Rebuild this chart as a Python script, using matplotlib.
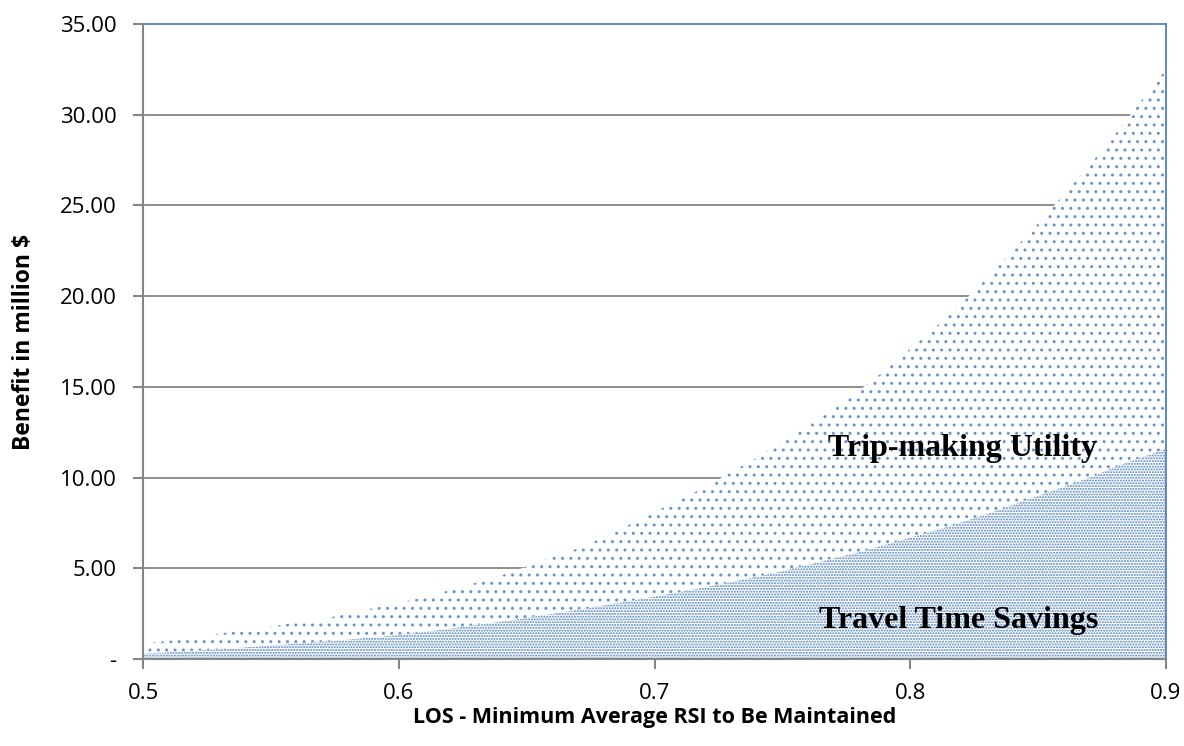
import matplotlib.pyplot as plt
import numpy as np

# LOS values (x) and benefits in million $
los = [0.50, 0.51, 0.52, 0.53, 0.54, 0.55, 0.56, 0.57, 0.58, 0.59,
       0.60, 0.61, 0.62, 0.63, 0.64, 0.65, 0.66, 0.67, 0.68, 0.69,
       0.70, 0.71, 0.72, 0.73, 0.74, 0.75, 0.76, 0.77, 0.78, 0.79,
       0.80, 0.81, 0.82, 0.83, 0.84, 0.85, 0.86, 0.87, 0.88, 0.89, 0.90]

# travel time savings (bottom layer)
travel_time = [0.30, 0.38, 0.46, 0.55, 0.65, 0.75, 0.85, 0.96, 1.08, 1.20,
               1.33, 1.50, 1.68, 1.87, 2.07, 2.28, 2.50, 2.72, 2.96, 3.20,
               3.45, 3.70, 3.97, 4.25, 4.55, 4.85, 5.20, 5.55, 5.90, 6.30,
               6.70, 7.10, 7.55, 8.00, 8.50, 9.00, 9.50, 10.0, 10.6, 11.1, 11.6]

# total benefit (travel time + trip-making utility, top of stack)
total_benefit = [0.85, 1.00, 1.20, 1.40, 1.60, 1.80, 2.00, 2.20, 2.50, 2.80,
                 3.10, 3.40, 3.80, 4.20, 4.60, 5.10, 5.60, 6.10, 6.70, 7.40,
                 8.10, 8.80, 9.50, 10.3, 11.1, 12.0, 12.9, 13.8, 14.8, 15.9,
                 17.1, 18.3, 19.6, 21.0, 22.5, 24.0, 25.6, 27.2, 28.9, 30.7, 32.5]

y_ticks = [0, 5, 10, 15, 20, 25, 30, 35]
y_ticklabels = ['-', '5.00', '10.00', '15.00', '20.00', '25.00', '30.00', '35.00']
x_ticks = [0.5, 0.6, 0.7, 0.8, 0.9]
x_ticklabels = ['0.5', '0.6', '0.7', '0.8', '0.9']

blue = '#4F81BD'
light_blue = '#6A94CC'
grey = '#868686'

plt.rcParams['font.family'] = ['Open Sans', 'DejaVu Sans']
plt.rcParams['hatch.linewidth'] = 1.0

fig = plt.figure(figsize=(11.84, 7.46), dpi=100)
ax = fig.add_axes([0.1208, 0.1166, 0.8640, 0.8512])

ax.fill_between(los, 0, travel_time, facecolor='white', edgecolor=blue,
                hatch='......', linewidth=0, zorder=2)
ax.fill_between(los, travel_time, total_benefit, facecolor='white',
                edgecolor=light_blue, hatch='..', linewidth=0, zorder=2)

ax.set_xlim(0.5, 0.9)
ax.set_ylim(0, 35)
ax.set_xticks(x_ticks)
ax.set_xticklabels(x_ticklabels, fontsize=16)
ax.set_yticks(y_ticks)
ax.set_yticklabels(y_ticklabels, fontsize=16)

# gridlines except top
for yv in y_ticks[1:-1]:
    ax.axhline(yv, color=grey, lw=1.3, zorder=1)

for s in ['left', 'bottom']:
    ax.spines[s].set_color(grey)
    ax.spines[s].set_linewidth(1.5)
    ax.spines[s].set_zorder(3)
for s in ['top', 'right']:
    ax.spines[s].set_color(blue)
    ax.spines[s].set_linewidth(1.3)

ax.tick_params(axis='both', color=grey, width=1.5, length=7)
ax.tick_params(axis='y', pad=12)
ax.tick_params(axis='x', pad=10)

ax.set_xlabel('LOS - Minimum Average RSI to Be Maintained', fontsize=15.5,
              fontweight='bold')
ax.set_ylabel('Benefit in million $', fontsize=16.5, fontweight='bold')
ax.xaxis.set_label_coords(0.5, -0.075)
ax.yaxis.set_label_coords(-0.105, 0.5)

ax.text(0.8206, 11.6, 'Trip-making Utility', family='Liberation Serif',
        fontsize=23, fontweight='bold', ha='center', va='center', zorder=4)
ax.text(0.819, 2.15, 'Travel Time Savings', family='Liberation Serif',
        fontsize=23, fontweight='bold', ha='center', va='center', zorder=4)

plt.savefig('out.png', dpi=100)
